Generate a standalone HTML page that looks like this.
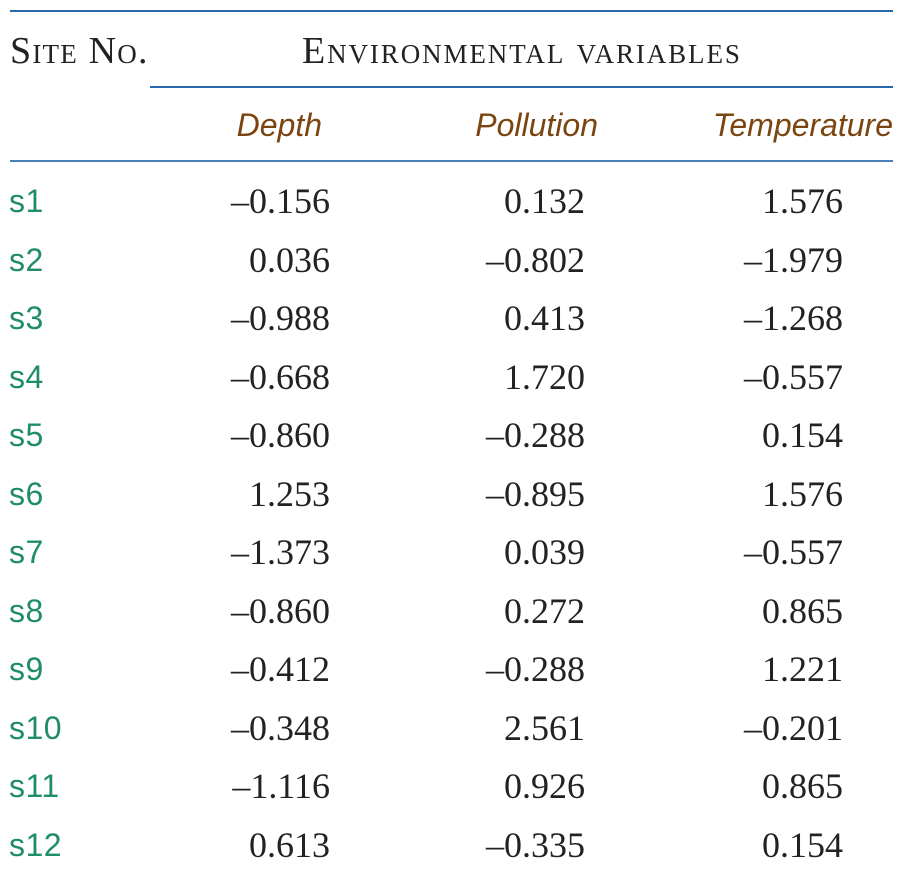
<!DOCTYPE html>
<html><head><meta charset="utf-8"><style>
body{margin:0;background:#fff;width:901px;height:869px;position:relative;overflow:hidden}
.rule{position:absolute;background:#2a68ad}
.t{position:absolute;height:40px;line-height:40px;white-space:nowrap}
.sc{font-family:"Liberation Serif",serif;font-size:38px;color:#222;font-variant:small-caps;letter-spacing:1.2px}
.ch{font-family:"Liberation Sans",sans-serif;font-style:italic;font-size:32px;color:#7a4510}
.site{font-family:"Liberation Sans",sans-serif;font-size:32px;color:#1f8c6a;left:9px;letter-spacing:0.5px}
.num{font-family:"Liberation Serif",serif;font-size:36px;color:#222;text-align:right;width:200px}
</style></head><body>
<div class="rule" style="left:10px;top:10px;width:883px;height:2px"></div>
<div class="rule" style="left:150px;top:86px;width:743px;height:1.5px"></div>
<div class="rule" style="left:10px;top:160px;width:883px;height:1.5px;background:#4a7fb8"></div>
<div class="t sc" style="left:10px;top:31px">Site No.</div>
<div class="t sc" style="left:302px;top:31px;letter-spacing:1.9px">Environmental variables</div>
<div class="t ch" style="left:120px;width:202px;text-align:right;top:105px">Depth</div>
<div class="t ch" style="left:390px;width:208px;text-align:right;top:105px">Pollution</div>
<div class="t ch" style="left:640px;width:253px;text-align:right;top:105px">Temperature</div>
<div id="rows"></div>
<script>
const sites=["s1","s2","s3","s4","s5","s6","s7","s8","s9","s10","s11","s12"];
const depth=["\u20130.156","0.036","\u20130.988","\u20130.668","\u20130.860","1.253","\u20131.373","\u20130.860","\u20130.412","\u20130.348","\u20131.116","0.613"];
const pollution=["0.132","\u20130.802","0.413","1.720","\u20130.288","\u20130.895","0.039","0.272","\u20130.288","2.561","0.926","\u20130.335"];
const temperature=["1.576","\u20131.979","\u20131.268","\u20130.557","0.154","1.576","\u20130.557","0.865","1.221","\u20130.201","0.865","0.154"];
const root=document.getElementById('rows');
sites.forEach((s,i)=>{
  const y=201+i*58.5-20;
  const a=document.createElement('div');
  a.className='t site';a.style.top=y+'px';a.textContent=s;
  
  
  root.appendChild(a);
  [[depth,330,'depth-value'],[pollution,585,'pollution-value'],[temperature,843,'temperature-value']].forEach(([arr,r,n])=>{
    const d=document.createElement('div');
    d.className='t num';d.style.top=y+'px';d.style.left=(r-200)+'px';d.textContent=arr[i];
    
    
    root.appendChild(d);
  });
});
</script>
</body></html>
